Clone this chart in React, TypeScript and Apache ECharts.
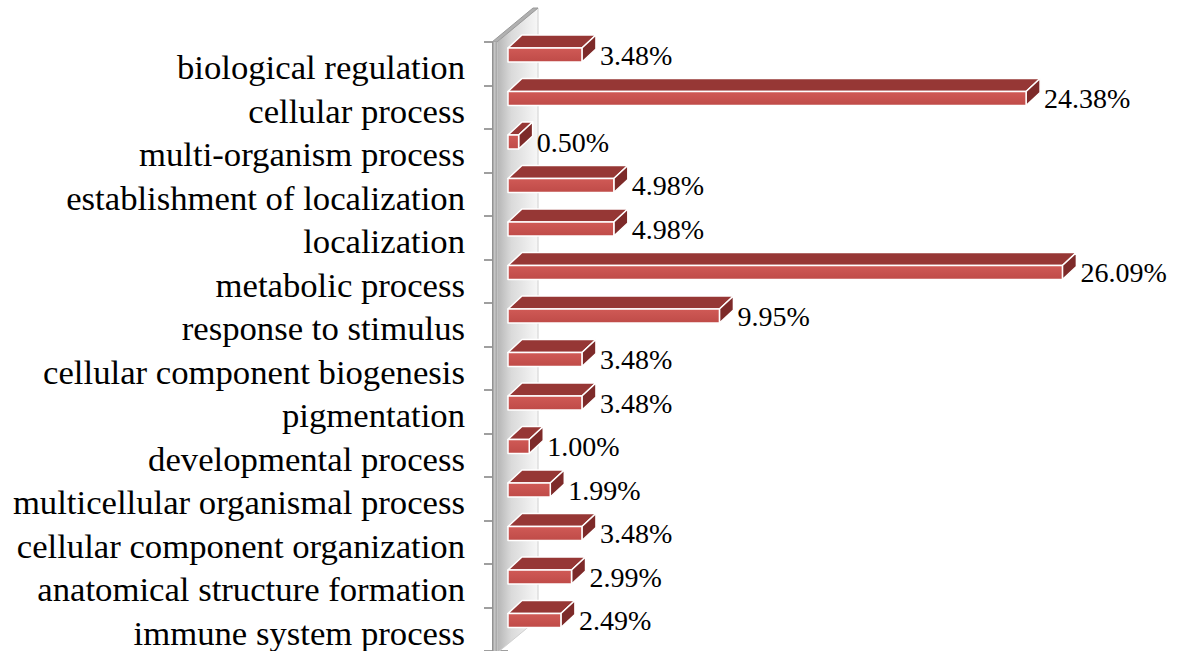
import React, { useEffect, useRef } from "react";
import * as echarts from "echarts";

const categories = [
  "biological regulation",
  "cellular process",
  "multi-organism process",
  "establishment of localization",
  "localization",
  "metabolic process",
  "response to stimulus",
  "cellular component biogenesis",
  "pigmentation",
  "developmental process",
  "multicellular organismal process",
  "cellular component organization",
  "anatomical structure formation",
  "immune system process",
];

const percentages = [3.48, 24.38, 0.5, 4.98, 4.98, 26.09, 9.95, 3.48, 3.48, 1.0, 1.99, 3.48, 2.99, 2.49];

const SERIF = "Liberation Serif";

export default function App() {
  const ref = useRef<HTMLDivElement>(null);

  useEffect(() => {
    if (!ref.current) return;
    const chart = echarts.init(ref.current, null, { renderer: "svg" });

    const DX = 14; // bar depth offset x
    const DY = 13; // bar depth offset y
    const FRONT_H = 14;
    const FRONT_SHIFT = -8.75;

    const wallRender = (params: any, api: any) => {
      const cs = params.coordSys;
      const x0 = api.coord([0, 0])[0];
      const top = cs.y;
      const bottom = cs.y + cs.height + 2;
      const fx = x0 - 11;
      const WX = 41;
      const WY = 34;
      return {
        type: "group",
        children: [
          {
            type: "polygon",
            shape: { points: [[fx, top], [fx + WX, top - WY], [fx + WX, bottom - WY], [fx, bottom]] },
            style: {
              fill: new echarts.graphic.LinearGradient(0, 0, 1, 0, [
                { offset: 0, color: "#b4b4b4" },
                { offset: 0.35, color: "#dadada" },
                { offset: 1, color: "#f7f7f7" },
              ]),
              stroke: "#d0d0d0",
              lineWidth: 1,
            },
          },
          {
            type: "polygon",
            shape: { points: [[fx - 5, top], [fx - 5 + WX, top - WY], [fx + WX, top - WY], [fx, top]] },
            style: { fill: "#b0b0b0", stroke: "#9a9a9a", lineWidth: 1 },
          },
          {
            type: "rect",
            shape: { x: fx - 5, y: top, width: 5, height: bottom - top },
            style: {
              fill: new echarts.graphic.LinearGradient(0, 0, 1, 0, [
                { offset: 0, color: "#858585" },
                { offset: 0.5, color: "#c4c4c4" },
                { offset: 1, color: "#a4a4a4" },
              ]),
            },
          },
        ],
      };
    };

    const barRender = (params: any, api: any) => {
      const idx = api.value(0);
      const val = api.value(1);
      const start = api.coord([0, idx]);
      const end = api.coord([val, idx]);
      const x0 = start[0];
      const x1 = end[0];
      const cy = start[1] + FRONT_SHIFT;
      const yT = cy - FRONT_H / 2;
      const yB = cy + FRONT_H / 2;
      const stroke = { stroke: "#ffffff", lineWidth: 1.5, lineJoin: "round" };
      return {
        type: "group",
        children: [
          {
            type: "polygon",
            shape: { points: [[x0, yT], [x1, yT], [x1 + DX, yT - DY], [x0 + DX, yT - DY]] },
            style: { fill: "#963735", ...stroke },
          },
          {
            type: "polygon",
            shape: { points: [[x1, yT], [x1 + DX, yT - DY], [x1 + DX, yB - DY], [x1, yB]] },
            style: { fill: "#7d2a29", ...stroke },
          },
          {
            type: "rect",
            shape: { x: x0, y: yT, width: x1 - x0, height: FRONT_H },
            style: {
              fill: new echarts.graphic.LinearGradient(0, 0, 0, 1, [
                { offset: 0, color: "#d05a56" },
                { offset: 1, color: "#bf4b48" },
              ]),
              ...stroke,
            },
          },
          {
            type: "text",
            style: {
              text: val.toFixed(2) + "%",
              x: x1 + DX + 4,
              y: cy,
              fill: "#000000",
              fontFamily: SERIF,
              fontSize: 28,
              align: "left",
              verticalAlign: "middle",
            },
          },
        ],
      };
    };

    chart.setOption({
      animation: false,
      backgroundColor: "#ffffff",
      grid: { left: 508, right: 37.5, top: 42, bottom: 0, containLabel: false },
      xAxis: {
        type: "value",
        min: 0,
        max: 30,
        show: false,
      },
      yAxis: {
        type: "category",
        data: categories,
        inverse: true,
        axisLine: { show: false },
        axisTick: { show: true, length: 24, lineStyle: { color: "#7f7f7f", width: 1.5 } },
        axisLabel: {
          interval: 0,
          margin: 43,
          fontFamily: SERIF,
          fontSize: 34.7,
          color: "#000000",
          verticalAlign: "top",
          lineHeight: 8,
        },
        splitLine: { show: false },
      },
      series: [
        {
          type: "custom",
          name: "wall",
          renderItem: wallRender,
          data: [[0, 0]],
          z: 1,
          silent: true,
        },
        {
          type: "custom",
          name: "percent",
          renderItem: barRender,
          encode: { x: 1, y: 0 },
          data: percentages.map((v, i) => [i, v]),
          z: 3,
        },
      ],
    });

    return () => chart.dispose();
  }, []);

  return (
    <div
      ref={ref}
      style={{ position: "absolute", left: 0, top: 0, width: 1183, height: 651 }}
    />
  );
}
